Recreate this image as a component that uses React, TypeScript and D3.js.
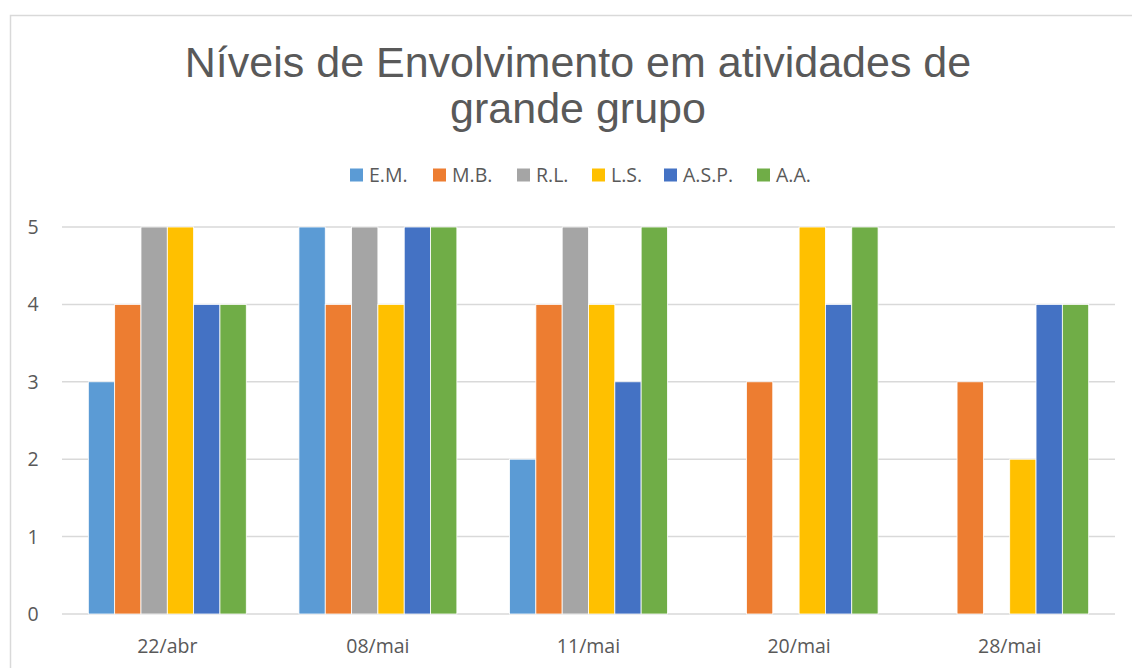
import * as d3 from "d3";

const categories = ["22/abr", "08/mai", "11/mai", "20/mai", "28/mai"];
const seriesNames = ["E.M.", "M.B.", "R.L.", "L.S.", "A.S.P.", "A.A."];
const seriesColors = ["#5B9BD5", "#ED7D31", "#A5A5A5", "#FFC000", "#4472C4", "#70AD47"];

// one array per series, value per category (null = no record)
const emValues = [3, 5, 2, null, null];
const mbValues = [4, 4, 4, 3, 3];
const rlValues = [5, 5, 5, null, null];
const lsValues = [5, 4, 4, 5, 2];
const aspValues = [4, 5, 3, 4, 4];
const aaValues = [4, 5, 5, 5, 4];
const seriesValues = [emValues, mbValues, rlValues, lsValues, aspValues, aaValues];

const yTicks = [0, 1, 2, 3, 4, 5];

const W = 1132;
const H = 668;
const margin = { top: 227, right: 17, bottom: 54, left: 62 };
const labelFont = "'Open Sans', 'Noto Sans', sans-serif";
const titleFont = "'Liberation Sans', Arial, Helvetica, sans-serif";
const textColor = "#595959";

export default function App() {
  const x0 = d3
    .scaleBand<string>()
    .domain(categories)
    .range([margin.left, W - margin.right])
    .paddingInner(0)
    .paddingOuter(0);

  const x1 = d3
    .scaleBand<string>()
    .domain(seriesNames)
    .range([0, x0.bandwidth()])
    .paddingInner(0)
    .paddingOuter(1);

  const y = d3
    .scaleLinear()
    .domain([0, 5])
    .range([H - margin.bottom, margin.top]);

  // ── Legend layout: swatch 13, gap 6, text, gap 21 ─────────────────
  const legendTextW = [43, 44, 35, 32, 53, 38];
  const legendX0 = 350;
  const legendStarts = legendTextW.map(
    (_, i) => legendX0 + d3.sum(legendTextW.slice(0, i), (w) => 13 + 6 + w + 21),
  );

  return (
    <svg
      width={W}
      height={H}
      style={{ position: "absolute", left: 0, top: 0, background: "#fff" }}
    >
      <rect x={10.5} y={15.5} width={1140} height={700} fill="#fff" stroke="#D9D9D9" strokeWidth={1.5} />

      {/* title */}
      <text
        x={W / 2 + 12}
        y={77}
        textAnchor="middle"
        fontFamily={titleFont}
        fontSize={43}
        fill={textColor}
      >
        Níveis de Envolvimento em atividades de
      </text>
      <text
        x={W / 2 + 12}
        y={123}
        textAnchor="middle"
        fontFamily={titleFont}
        fontSize={43}
        fill={textColor}
      >
        grande grupo
      </text>

      {/* legend */}
      {seriesNames.map((s, i) => (
        <g key={s} transform={`translate(${legendStarts[i]},175)`}>
          <rect x={0} y={-6.5} width={13} height={13} fill={seriesColors[i]} />
          <text x={19} y={7} fontFamily={labelFont} fontSize={19.5} fill={textColor}>
            {s}
          </text>
        </g>
      ))}

      {/* gridlines */}
      {yTicks.map((t) => (
        <line
          key={t}
          x1={margin.left}
          x2={W - margin.right}
          y1={y(t)}
          y2={y(t)}
          stroke="#D9D9D9"
          strokeWidth={1.5}
        />
      ))}

      {/* y tick labels */}
      {yTicks.map((t) => (
        <text
          key={t}
          x={33}
          y={y(t)}
          dy="0.36em"
          textAnchor="middle"
          fontFamily={labelFont}
          fontSize={19.5}
          fill={textColor}
        >
          {t}
        </text>
      ))}

      {/* bars */}
      {categories.map((c, ci) => (
        <g key={c} transform={`translate(${x0(c)},0)`}>
          {seriesNames.map((s, si) => {
            const v = seriesValues[si][ci];
            if (v == null) return null;
            return (
              <rect
                key={s}
                x={x1(s)}
                y={y(v)}
                width={x1.bandwidth()}
                height={y(0) - y(v)}
                fill={seriesColors[si]}
                stroke="#fff"
                strokeWidth={0.8}
              />
            );
          })}
        </g>
      ))}

      {/* category labels */}
      {categories.map((c) => (
        <text
          key={c}
          x={(x0(c) ?? 0) + x0.bandwidth() / 2}
          y={653}
          textAnchor="middle"
          fontFamily={labelFont}
          fontSize={19.5}
          fill={textColor}
        >
          {c}
        </text>
      ))}
    </svg>
  );
}
